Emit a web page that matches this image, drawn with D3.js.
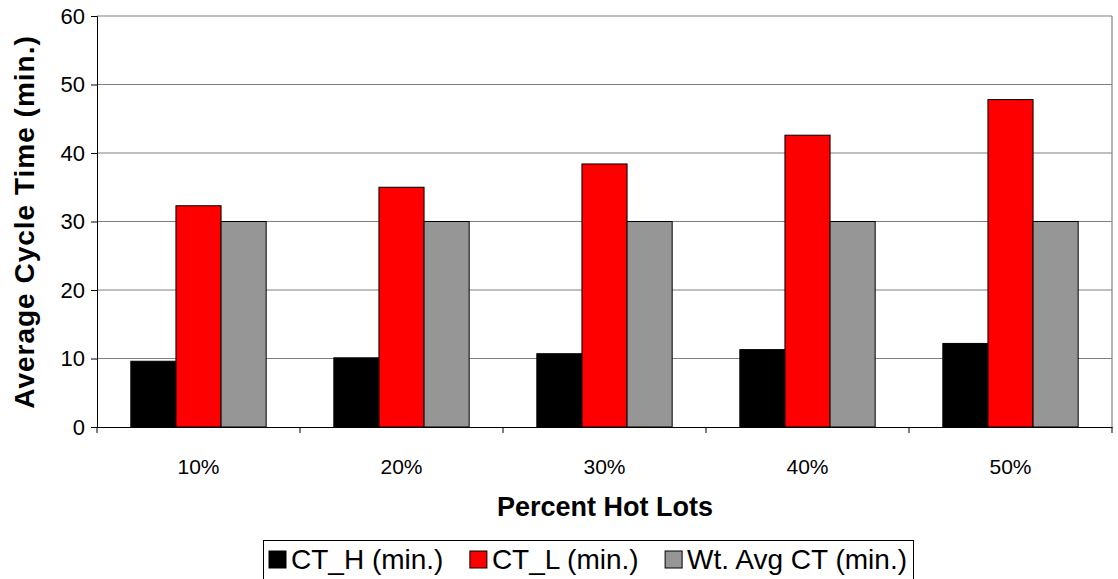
<!DOCTYPE html>
<html><head><meta charset="utf-8">
<script src="https://cdn.jsdelivr.net/npm/d3@7"></script>
<style>body{margin:0;background:#fff}svg{display:block;font-family:Arial,"Liberation Sans",sans-serif}</style>
</head><body>
<script>
const categories = ["10%","20%","30%","40%","50%"];
const seriesNames = ["CT_H (min.)","CT_L (min.)","Wt. Avg CT (min.)"];
const ctH = [9.6,10.1,10.7,11.3,12.2];
const ctL = [32.3,35.0,38.4,42.6,47.8];
const wtAvg = [30,30,30,30,30];
const yTicks = [0,10,20,30,40,50,60];
const colors = ["#000000","#ff0000","#969696"];

const W=1118,H=579;
const m={l:97,r:1112,t:16,b:427};
const svg=d3.select("body").append("svg").attr("width",W).attr("height",H);
const x=d3.scaleBand().domain(categories).range([m.l,m.r]).paddingInner(0).paddingOuter(0);
const y=d3.scaleLinear().domain([0,60]).range([m.b,m.t]);
const seriesVals=[ctH,ctL,wtAvg];
const bw=x.bandwidth()/4.5;

// gridlines
svg.append("g").selectAll("line").data(yTicks.filter(d=>d>0)).join("line")
 .attr("x1",m.l).attr("x2",m.r).attr("y1",d=>y(d)).attr("y2",d=>y(d))
 .attr("stroke","#808080").attr("stroke-width",1.2);
svg.append("line").attr("x1",m.r).attr("x2",m.r).attr("y1",m.t).attr("y2",m.b).attr("stroke","#808080").attr("stroke-width",1.2);

// bars
seriesVals.forEach((vals,si)=>{
  svg.append("g").selectAll("rect").data(vals).join("rect")
   .attr("x",(d,i)=>x(categories[i])+x.bandwidth()/2-1.5*bw+si*bw)
   .attr("y",d=>y(d)).attr("width",bw).attr("height",d=>y(0)-y(d))
   .attr("fill",colors[si]).attr("stroke","#000").attr("stroke-width",1);
});

// axes
const ya=svg.append("g").attr("transform",`translate(${m.l},0)`)
 .call(d3.axisLeft(y).tickValues(yTicks).tickSize(6).tickPadding(6));
ya.attr("font-size",null).attr("font-family",null);
ya.select(".domain").attr("stroke","#000");
ya.selectAll("text").style("font-size","22px").attr("fill","#000");
const xa=svg.append("g").attr("transform",`translate(0,${m.b})`)
 .call(d3.axisBottom(x).tickSize(0).tickPadding(0).tickFormat(()=>""));
xa.select(".domain").attr("stroke","#000");
svg.append("g").selectAll("line").data(categories.concat(["end"])).join("line")
 .attr("x1",(d,i)=>i<categories.length?x(d):m.r).attr("x2",(d,i)=>i<categories.length?x(d):m.r)
 .attr("y1",m.b).attr("y2",m.b+6).attr("stroke","#000");
svg.append("g").selectAll("text").data(categories).join("text")
 .attr("x",d=>x(d)+x.bandwidth()/2).attr("y",474).attr("text-anchor","middle")
 .style("font-size","21px").text(d=>d);

// titles
svg.append("text").attr("x",605).attr("y",516).attr("text-anchor","middle")
 .style("font-size","27px").attr("font-weight","bold").text("Percent Hot Lots");
svg.append("text").attr("transform","translate(34,222) rotate(-90)").attr("text-anchor","middle")
 .style("font-size","28px").style("letter-spacing","1px").attr("font-weight","bold").text("Average Cycle Time (min.)");

// legend
const lg=svg.append("g");
lg.append("rect").attr("x",263.5).attr("y",540.5).attr("width",650).attr("height",40)
 .attr("fill","none").attr("stroke","#000");
const sq=17, sgap=5, startX=269, endX=907;
const items=seriesNames.map((n,i)=>{
  const g=lg.append("g");
  g.append("rect").attr("y",551).attr("width",sq).attr("height",sq)
   .attr("fill",colors[i]).attr("stroke","#000");
  const t=g.append("text").attr("x",sq+sgap).attr("y",569).style("font-size","28px").text(n);
  return {g,w:sq+sgap+t.node().getComputedTextLength()};
});
const gap=(endX-startX-d3.sum(items,d=>d.w))/(items.length-1);
let cx=startX;
items.forEach(it=>{it.g.attr("transform",`translate(${cx},0)`);cx+=it.w+gap;});
</script>
</body></html>
